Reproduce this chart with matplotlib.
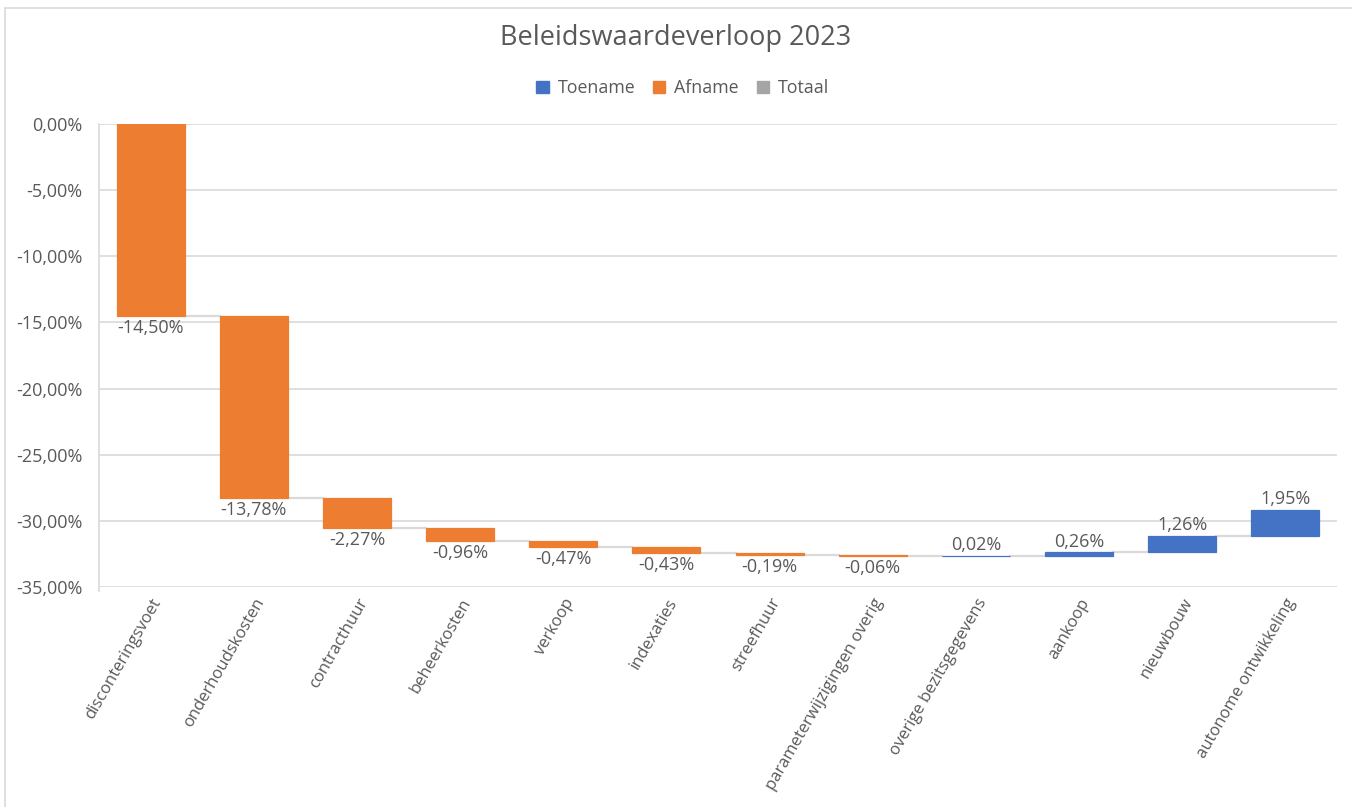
import numpy as np
import matplotlib
matplotlib.use("Agg")
from matplotlib import pyplot as plt
from matplotlib.patches import Patch, Rectangle

plt.rcParams['font.family'] = ['Open Sans', 'DejaVu Sans']

categories = ["disconteringsvoet", "onderhoudskosten", "contracthuur", "beheerkosten",
              "verkoop", "indexaties", "streefhuur", "parameterwijzigingen overig",
              "overige bezitsgegevens", "aankoop", "nieuwbouw", "autonome ontwikkeling"]
changes = [-14.50, -13.78, -2.27, -0.96, -0.47, -0.43, -0.19, -0.06, 0.02, 0.26, 1.26, 1.95]
yticks = [0, -5, -10, -15, -20, -25, -30, -35]

BLUE = '#4472c4'
ORANGE = '#ed7d31'
GREY = '#a5a5a5'
TXT = '#595959'
GRID = '#d9d9d9'

changes = np.array(changes)
ends = np.cumsum(changes)
starts = ends - changes
x = np.arange(len(categories))

fig = plt.figure(figsize=(13.52, 8.07), dpi=100)
ax = fig.add_axes([99/1352, 1-587/807, (1337-99)/1352, (587-124)/807])

# outer chart border
fig.patches.append(Rectangle((5/1352, -0.05), 1.2, 1-8/807+0.05, transform=fig.transFigure,
                             fill=False, edgecolor=GRID, linewidth=1.2))

colors = [BLUE if c > 0 else ORANGE for c in changes]
w = 0.66
ax.bar(x, changes, bottom=starts, width=w, color=colors, edgecolor=colors, linewidth=0.9, zorder=3)

# connectors
for i in range(len(x) - 1):
    ax.plot([x[i] + w/2, x[i+1] - w/2], [ends[i], ends[i]], color=GRID, lw=1.6, zorder=2)

for i, c in enumerate(changes):
    lab = ('%.2f%%' % c).replace('.', ',')
    if c < 0:
        ax.annotate(lab, (x[i], min(starts[i], ends[i])), xytext=(0, -2), textcoords='offset points',
                    ha='center', va='top', fontsize=13, color=TXT)
    else:
        ax.annotate(lab, (x[i], max(starts[i], ends[i])), xytext=(0, 1), textcoords='offset points',
                    ha='center', va='bottom', fontsize=13, color=TXT)

ax.set_xlim(-0.5, len(x) - 0.5)
ax.set_ylim(-35, 0)
ax.set_yticks(yticks)
ax.set_yticklabels([('%.2f%%' % v).replace('.', ',') if v != 0 else '0,00%' for v in yticks])
ax.yaxis.grid(True, color=GRID, lw=1.2, zorder=0)
ax.set_axisbelow(True)
ax.set_xticks(x)
ax.set_xticklabels(categories, rotation=60, ha='right', rotation_mode='anchor')
ax.tick_params(axis='both', length=0, colors=TXT)
ax.tick_params(axis='x', pad=6, labelsize=12)
ax.tick_params(axis='y', pad=12, labelsize=13)
for s in ['top', 'right', 'bottom']:
    ax.spines[s].set_visible(False)
ax.spines['left'].set_color(GRID)
ax.spines['left'].set_linewidth(1.2)
ax.spines['left'].set_bounds(-35.3, 0)

fig.text(0.5, 1-38/807, 'Beleidswaardeverloop 2023', ha='center', va='center', fontsize=19.5, color=TXT)
handles = [Patch(color=BLUE, label='Toename'), Patch(color=ORANGE, label='Afname'),
           Patch(color=GREY, label='Totaal')]
fig.legend(handles=handles, loc='center', bbox_to_anchor=(0.505, 1-88/807), ncol=3, frameon=False,
           fontsize=12.8, handlelength=0.7, handleheight=0.7, handletextpad=0.5, columnspacing=1.0,
           labelcolor=TXT)

fig.savefig('out.png', dpi=100)
